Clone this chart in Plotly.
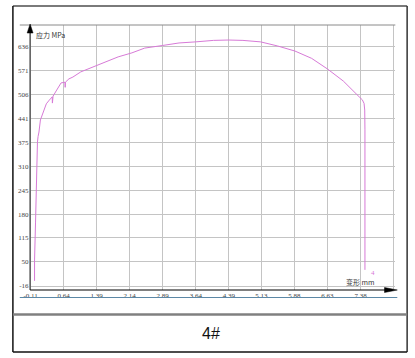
import plotly.graph_objects as go

W, H = 415, 358

# data: strain (mm) vs stress (MPa)
deform = [-0.02, -0.02, 0.002, 0.024, 0.046, 0.06, 0.08, 0.113, 0.18, 0.247, 0.314, 0.381, 0.385, 0.39,
          0.40, 0.47, 0.537, 0.582, 0.671, 0.675, 0.68, 0.76, 0.85, 1.028, 1.296, 1.586, 1.877,
          2.19, 2.48, 2.88, 3.26, 3.64, 4.04, 4.38, 4.71, 5.11, 5.49, 5.89, 6.27, 6.63, 6.99,
          7.35, 7.42, 7.46, 7.475, 7.48, 7.48]
stress = [-2, 55, 156, 300, 377, 392, 404, 437, 461, 481, 491, 500, 483, 500,
          502, 516, 530, 538, 540, 526, 540, 549, 554, 568, 581, 595, 609,
          620, 633, 640, 647, 650, 654, 655, 654, 650, 639, 625, 605, 576, 543,
          500, 492, 482, 464, 410, 28]

x_ticks = [-0.11, 0.64, 1.39, 2.14, 2.89, 3.64, 4.39, 5.13, 5.88, 6.63, 7.38, 8.13]
x_labels = ["-0.11", "0.64", "1.39", "2.14", "2.89", "3.64", "4.39", "5.13", "5.88", "6.63", "7.38", ""]
y_ticks = [-16, 50, 115, 180, 245, 310, 375, 441, 506, 571, 636]
y_labels = ["-16", "50", "115", "180", "245", "310", "375", "441", "506", "571", "636"]

def px(x):
    return x / W

def py(y):
    return 1 - y / H

fig = go.Figure()
fig.add_trace(go.Scatter(x=deform, y=stress, mode="lines",
                         line=dict(color="#d77ad7", width=1), hoverinfo="skip"))

tick_font = dict(family="Liberation Serif", size=7, color="#444")

fig.update_layout(
    width=W, height=H,
    margin=dict(l=0, r=0, t=0, b=0),
    paper_bgcolor="white", plot_bgcolor="white",
    showlegend=False,
    xaxis=dict(domain=[px(24), px(395)], range=[-0.11, 8.17],
               tickvals=x_ticks, ticktext=x_labels, showgrid=True,
               gridcolor="#c4c4c4", gridwidth=1, zeroline=False, showline=False,
               ticks="", tickfont=tick_font, ticklabelstandoff=0),
    yaxis=dict(domain=[py(290), py(25)], range=[-26.9, 696],
               tickvals=y_ticks, ticktext=y_labels, showgrid=True,
               gridcolor="#c4c4c4", gridwidth=1, zeroline=False, showline=False,
               ticks="", tickfont=tick_font, ticklabelstandoff=1),
)

shapes = []
def line(x0, y0, x1, y1, color, width):
    shapes.append(dict(type="line", xref="paper", yref="paper",
                       x0=px(x0), y0=py(y0), x1=px(x1), y1=py(y1),
                       line=dict(color=color, width=width), layer="above"))

# outer table frame
line(6, 6, 407, 6, "#7a7a7a", 2)
line(6, 6, 6, 352, "#111", 1.5)
line(407, 6, 407, 352, "#333", 1.5)
line(6, 352, 407, 352, "#111", 1.5)
line(6, 314.5, 407, 314.5, "#808080", 2.5)
# chart border lines
line(13, 25, 395, 25, "#8a8a8a", 1)
line(13, 297.5, 397, 297.5, "#5b87a5", 1)
# axes
line(23.5, 30, 23.5, 290, "#000", 1)
line(23.5, 290, 386, 290, "#000", 1)
shapes.append(dict(type="path", xref="paper", yref="paper",
                   path=f"M {px(23.5)},{py(24)} L {px(20.5)},{py(33)} L {px(26.5)},{py(33)} Z",
                   fillcolor="#000", line=dict(color="#000", width=0.5), layer="above"))
shapes.append(dict(type="path", xref="paper", yref="paper",
                   path=f"M {px(397)},{py(290)} L {px(384)},{py(287.5)} L {px(384)},{py(292.5)} Z",
                   fillcolor="#000", line=dict(color="#000", width=0.5), layer="above"))
fig.update_layout(shapes=shapes)

ann_font = dict(family="Noto Sans CJK SC", size=7, color="#333")
fig.add_annotation(xref="paper", yref="paper", x=px(27), y=py(35), text="应力 MPa",
                   showarrow=False, xanchor="left", yanchor="middle", font=ann_font)
fig.add_annotation(xref="paper", yref="paper", x=px(376), y=py(282), text="变形 mm",
                   showarrow=False, xanchor="right", yanchor="middle", font=ann_font)
fig.add_annotation(x=7.66, y=20, text="4", showarrow=False, xanchor="center", yanchor="middle",
                   font=dict(family="Liberation Serif", size=7, color="#d77ad7"))
fig.add_annotation(xref="paper", yref="paper", x=px(207), y=py(333), text="4#",
                   showarrow=False, xanchor="center", yanchor="middle",
                   font=dict(family="Liberation Sans", size=16, color="#111"))

fig.write_html("out.html")
